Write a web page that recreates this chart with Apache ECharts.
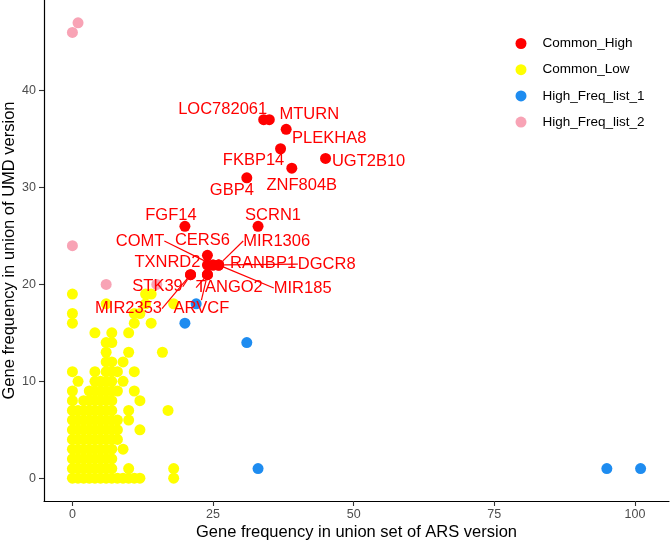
<!DOCTYPE html>
<html>
<head>
<meta charset="utf-8">
<script src="https://cdn.jsdelivr.net/npm/echarts@6.0.0/dist/echarts.min.js"></script>
<style>
html, body { margin: 0; padding: 0; background: #fff; }
#main { width: 671px; height: 543px; }
</style>
</head>
<body>
<div id="main"></div>
<script>
// Common_High genes (red, labelled)
var highNames = ['LOC782061', 'MTURN', 'PLEKHA8', 'FKBP14', 'UGT2B10', 'ZNF804B', 'GBP4', 'FGF14', 'SCRN1', 'CERS6',
                 'COMT', 'TXNRD2', 'RANBP1', 'MIR1306', 'DGCR8', 'MIR185', 'STK39', 'MIR2353', 'TANGO2', 'ARVCF'];
var highX = [34, 35, 38, 37, 45, 39, 31, 20, 33, 24, 25, 24, 25, 26, 26, 26, 21, 21, 24, 24];
var highY = [37, 37, 36, 34, 33, 32, 31, 26, 26, 23, 22, 22, 22, 22, 22, 22, 21, 21, 21, 21];

// Common_Low genes (yellow)
var lowPoints = [
  [0,0],[1,0],[2,0],[3,0],[4,0],[5,0],[6,0],[7,0],[8,0],[9,0],[10,0],[11,0],[12,0],[18,0],
  [0,1],[1,1],[2,1],[3,1],[4,1],[5,1],[6,1],[7,1],[10,1],[18,1],
  [0,2],[1,2],[2,2],[3,2],[4,2],[5,2],[6,2],[7,2],
  [0,3],[1,3],[2,3],[3,3],[4,3],[5,3],[6,3],[7,3],[9,3],
  [0,4],[1,4],[2,4],[3,4],[4,4],[5,4],[6,4],[7,4],[8,4],
  [0,5],[1,5],[2,5],[3,5],[4,5],[5,5],[6,5],[7,5],[8,5],[12,5],
  [0,6],[1,6],[2,6],[3,6],[4,6],[5,6],[6,6],[7,6],[8,6],[10,6],
  [0,7],[1,7],[2,7],[3,7],[4,7],[5,7],[6,7],[7,7],[10,7],[17,7],
  [0,8],[2,8],[3,8],[4,8],[5,8],[6,8],[7,8],[12,8],
  [0,9],[3,9],[4,9],[5,9],[6,9],[7,9],[8,9],[11,9],
  [1,10],[4,10],[5,10],[6,10],[7,10],[9,10],
  [0,11],[4,11],[6,11],[7,11],[8,11],[11,11],
  [6,12],[7,12],[9,12],
  [6,13],[10,13],[16,13],
  [6,14],[7,14],
  [4,15],[7,15],[10,15],
  [0,16],[11,16],[14,16],
  [0,17],[11,17],[12,17],
  [6,18],[13,18],[18,18],
  [0,19],[13,19],[14,19]
];

// High_Freq_list_1 (blue)
var freq1X = [20, 22, 31, 33, 95, 101];
var freq1Y = [16, 18, 14, 1, 1, 1];

// High_Freq_list_2 (pink)
var freq2X = [0, 1, 0, 6, 15];
var freq2Y = [46, 47, 24, 20, 20];

var xTicks = [0, 25, 50, 75, 100];
var yTicks = [0, 10, 20, 30, 40];

// where each label sits relative to its point (px), like ggrepel put them
var labelShift = {
  LOC782061: [-41, -10], MTURN: [40, -5], PLEKHA8: [43, 9], FKBP14: [-27, 12],
  UGT2B10: [43, 3], ZNF804B: [10, 17], GBP4: [-15, 13], FGF14: [-14, -11],
  SCRN1: [15, -11], CERS6: [-5, -15], COMT: [-73, -24], TXNRD2: [-40, -3],
  RANBP1: [50, -2], MIR1306: [58, -24], DGCR8: [108, -1], MIR185: [84, 23],
  STK39: [-33, 12], MIR2353: [-62, 34], TANGO2: [22, 13], ARVCF: [-6, 34]
};
var withLine = ['COMT', 'MIR1306', 'DGCR8', 'MIR185', 'STK39', 'MIR2353', 'TANGO2', 'ARVCF'];

var font = 'Liberation Sans, Arial, sans-serif';

var highData = highNames.map(function (n, i) {
  return { name: n, value: [highX[i], highY[i]], labelLine: { show: withLine.indexOf(n) >= 0 } };
});
var freq1Data = freq1X.map(function (x, i) { return [x, freq1Y[i]]; });
var freq2Data = freq2X.map(function (x, i) { return [x, freq2Y[i]]; });

var chart = echarts.init(document.getElementById('main'));

var option = {
  animation: false,
  backgroundColor: '#fff',
  textStyle: { fontFamily: font },
  grid: { left: 44, right: 2, top: 0, bottom: 42, containLabel: false, outerBoundsMode: 'none' },
  legend: {
    data: ['Common_High', 'Common_Low', 'High_Freq_list_1', 'High_Freq_list_2'],
    orient: 'vertical',
    left: 510.5,
    top: 31.5,
    icon: 'circle',
    itemWidth: 33,
    itemHeight: 11,
    itemGap: 12.2,
    textStyle: { fontSize: 13.5, color: '#000', fontFamily: font }
  },
  xAxis: {
    type: 'value',
    min: -5.05,
    max: 106.05,
    name: 'Gene frequency in union set of ARS version',
    nameLocation: 'middle',
    nameGap: 23,
    nameMoveOverlap: false,
    nameTextStyle: { fontSize: 16.5, color: '#000', fontFamily: font },
    axisLine: { show: true, onZero: false, lineStyle: { color: '#000', width: 1.2 } },
    axisTick: { show: true, customValues: xTicks, length: 5, lineStyle: { color: '#333', width: 1.1 } },
    axisLabel: { customValues: xTicks, fontSize: 12.5, color: '#4d4d4d', margin: 7, fontFamily: font },
    splitLine: { show: false }
  },
  yAxis: {
    type: 'value',
    min: -2.35,
    max: 49.35,
    name: 'Gene frequency in union of UMD version',
    nameLocation: 'middle',
    nameGap: 26,
    nameMoveOverlap: false,
    nameTextStyle: { fontSize: 16.5, color: '#000', fontFamily: font },
    axisLine: { show: true, onZero: false, lineStyle: { color: '#000', width: 1.2 } },
    axisTick: { show: true, customValues: yTicks, length: 5, lineStyle: { color: '#333', width: 1.1 } },
    axisLabel: { customValues: yTicks, fontSize: 12.5, color: '#4d4d4d', margin: 8, fontFamily: font },
    splitLine: { show: false }
  },
  series: [
    {
      name: 'Common_Low', type: 'scatter', symbolSize: 11,
      itemStyle: { color: '#FFFF00', opacity: 1 },
      data: lowPoints, z: 2
    },
    {
      name: 'High_Freq_list_2', type: 'scatter', symbolSize: 11,
      itemStyle: { color: '#F8A3B5', opacity: 1 },
      data: freq2Data, z: 3
    },
    {
      name: 'High_Freq_list_1', type: 'scatter', symbolSize: 11,
      itemStyle: { color: '#1E8CF0', opacity: 1 },
      data: freq1Data, z: 4
    },
    {
      name: 'Common_High', type: 'scatter', symbolSize: 11,
      itemStyle: { color: '#FF0000', opacity: 1 },
      data: highData, z: 5,
      label: {
        show: true, position: 'inside', formatter: '{b}',
        color: '#FF0000', fontSize: 16.5, fontFamily: font,
        textBorderWidth: 0
      },
      labelLine: { show: false, lineStyle: { color: '#FF0000', width: 1.2 } },
      labelLayout: function (p) {
        var s = labelShift[highNames[p.dataIndex]] || [0, 0];
        return {
          x: p.rect.x + p.rect.width / 2 + s[0],
          y: p.rect.y + p.rect.height / 2 + s[1],
          align: 'center',
          verticalAlign: 'middle'
        };
      }
    }
  ]
};

chart.setOption(option);
</script>
</body>
</html>
